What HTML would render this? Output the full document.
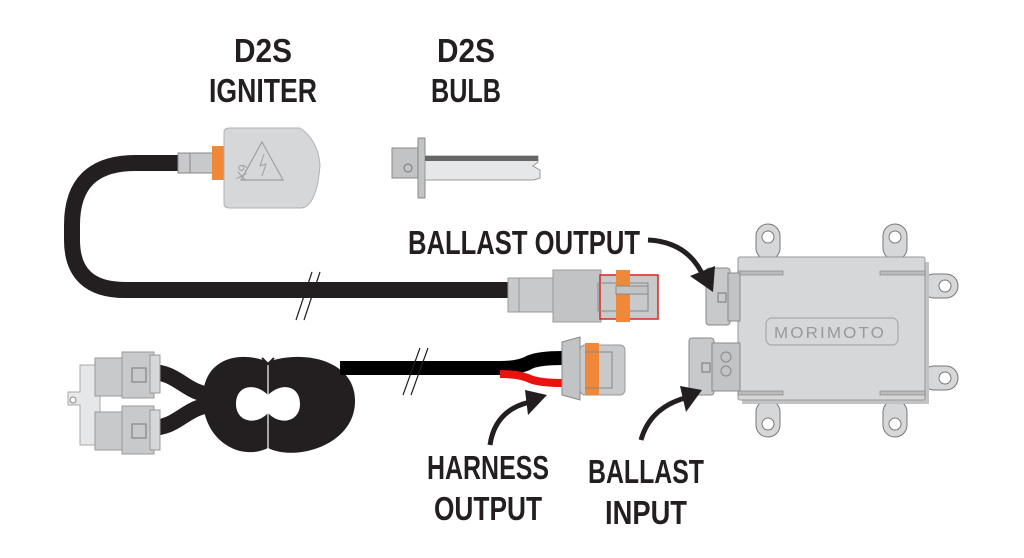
<!DOCTYPE html>
<html><head><meta charset="utf-8"><style>
html,body{margin:0;padding:0;background:#fff;width:1024px;height:558px;overflow:hidden}
svg{display:block}
text{font-family:"Liberation Sans Narrow","Liberation Sans",sans-serif;font-weight:bold;fill:#231f20;font-size:33px}
</style></head><body>
<svg width="1024" height="558" viewBox="0 0 1024 558" xmlns="http://www.w3.org/2000/svg">
<!-- labels -->
<text x="263" y="62" text-anchor="middle" textLength="58" lengthAdjust="spacingAndGlyphs">D2S</text>
<text x="263" y="102" text-anchor="middle" textLength="108" lengthAdjust="spacingAndGlyphs">IGNITER</text>
<text x="466" y="62" text-anchor="middle" textLength="58" lengthAdjust="spacingAndGlyphs">D2S</text>
<text x="466" y="102" text-anchor="middle" textLength="70" lengthAdjust="spacingAndGlyphs">BULB</text>
<text x="408" y="254" textLength="232" lengthAdjust="spacingAndGlyphs">BALLAST OUTPUT</text>
<text x="488" y="479" text-anchor="middle" textLength="122" lengthAdjust="spacingAndGlyphs">HARNESS</text>
<text x="488" y="520" text-anchor="middle" textLength="108" lengthAdjust="spacingAndGlyphs">OUTPUT</text>
<text x="646" y="483" text-anchor="middle" textLength="116" lengthAdjust="spacingAndGlyphs">BALLAST</text>
<text x="646" y="524" text-anchor="middle" textLength="82" lengthAdjust="spacingAndGlyphs">INPUT</text>

<!-- igniter cable -->
<path d="M185,163 H135 Q72,163 72,225 V240 Q72,290 125,290 H515" fill="none" stroke="#231f20" stroke-width="16"/>
<line x1="296" y1="320" x2="312" y2="272" stroke="#231f20" stroke-width="1.2"/>
<line x1="304" y1="320" x2="320" y2="272" stroke="#231f20" stroke-width="1.2"/>
<!-- igniter -->
<rect x="178" y="153" width="36" height="20" fill="#c8c9cb" stroke="#888" stroke-width="1"/>
<line x1="190" y1="153" x2="190" y2="173" stroke="#888"/>
<rect x="212" y="146" width="12" height="34" fill="#f0883a"/>
<path d="M224,132 Q224,128 230,128 H300 Q318,140 320,165 Q318,195 308,205 Q305,208 300,208 H230 Q224,208 224,204 Z" fill="#d6d7d9" stroke="#b0b1b3"/>
<path d="M262,142 L283,180 H241 Z" fill="none" stroke="#a0a0a0" stroke-width="1.2"/>
<path d="M264,154 L260,166 L266,164 L262,176" fill="none" stroke="#a0a0a0"/>
<text x="246" y="172" style="font-size:13px;fill:#a0a0a0;font-weight:normal" transform="rotate(100 246 165)">6X</text>

<!-- bulb -->
<rect x="392" y="148" width="28" height="30" fill="#c2c3c5" stroke="#888"/>
<circle cx="408" cy="168" r="4" fill="none" stroke="#777"/>
<rect x="418" y="138" width="7" height="60" fill="#c2c3c5" stroke="#888"/>
<path d="M425,156 H538 V162 L533,166 L540,170 V178 L534,180 H425 Z" fill="#e6e7e8" stroke="#999"/>
<rect x="425" y="156" width="113" height="5" fill="#666"/>

<!-- ballast output connector (on cable) -->
<rect x="508" y="278" width="45" height="34" fill="#c8c9cb" stroke="#999"/>
<line x1="519" y1="278" x2="519" y2="312" stroke="#999"/>
<rect x="553" y="270" width="48" height="52" fill="#c2c3c5" stroke="#999"/>
<rect x="600" y="275" width="58" height="44" fill="#c8c9cb" stroke="#d22" stroke-width="1.5"/>
<rect x="598" y="283" width="50" height="28" fill="none" stroke="#888"/>
<rect x="616" y="270" width="14" height="52" fill="#f0883a"/>
<rect x="616" y="286" width="32" height="8" fill="#c2c3c5" stroke="#888"/>

<!-- harness -->
<path d="M150,372 C180,372 185,395 215,395 M150,428 C180,428 185,405 215,405" fill="none" stroke="#231f20" stroke-width="16"/>
<path d="M268,362 C240,350 205,358 203,395 C201,440 240,462 268,448 C296,462 356,445 355,400 C354,358 300,350 268,362 Z" fill="#231f20"/>
<path d="M268,395 C255,382 236,385 236,404 C236,422 256,426 268,413 C280,426 300,422 300,404 C300,385 281,382 268,395 Z" fill="#fff"/>
<line x1="268" y1="360" x2="268" y2="450" stroke="#fff" stroke-width="1.2"/>
<path d="M262,358 L268,364 L274,358" fill="none" stroke="#231f20" stroke-width="2"/>
<path d="M340,368 H500 Q520,368 530,362 Q540,358 562,358" fill="none" stroke="#000" stroke-width="14"/>
<path d="M500,374 Q520,374 530,379 Q540,383 562,383" fill="none" stroke="#e8120e" stroke-width="8"/>
<line x1="403" y1="395" x2="420" y2="348" stroke="#231f20" stroke-width="1.2"/>
<line x1="411" y1="395" x2="428" y2="348" stroke="#231f20" stroke-width="1.2"/>
<!-- harness output connector -->
<path d="M562,342 L580,337 V400 L562,395 Z" fill="#c2c3c5" stroke="#888"/>
<rect x="580" y="345" width="45" height="50" rx="5" fill="#c8c9cb" stroke="#999"/>
<rect x="585" y="343" width="14" height="52" fill="#f0883a"/>
<path d="M585,352 H612 V388 H585" fill="none" stroke="#888"/>
<!-- left connectors -->
<path d="M80,365 H100 V445 H80 V405 H68 V392 H80 Z" fill="#e6e7e8" stroke="#aaa"/>
<circle cx="73" cy="400" r="3" fill="#fff" stroke="#888"/>
<rect x="95" y="358" width="30" height="38" fill="#c8c9cb" stroke="#999"/>
<rect x="122" y="352" width="32" height="46" fill="#c8c9cb" stroke="#999"/>
<rect x="150" y="355" width="10" height="38" fill="#d6d7d9" stroke="#999"/>
<rect x="132" y="368" width="14" height="14" fill="none" stroke="#777"/>
<rect x="95" y="412" width="30" height="38" fill="#c8c9cb" stroke="#999"/>
<rect x="122" y="406" width="32" height="48" fill="#c8c9cb" stroke="#999"/>
<rect x="150" y="410" width="10" height="40" fill="#d6d7d9" stroke="#999"/>
<rect x="132" y="424" width="14" height="14" fill="none" stroke="#777"/>

<!-- ballast -->
<g fill="#d6d7d9" stroke="#777" stroke-width="1">
<rect x="756" y="224" width="24" height="36" rx="12"/>
<rect x="883" y="224" width="24" height="36" rx="12"/>
<rect x="756" y="400" width="24" height="37" rx="12"/>
<rect x="883" y="400" width="24" height="37" rx="12"/>
<rect x="922" y="274" width="36" height="24" rx="12"/>
<rect x="922" y="366" width="36" height="24" rx="12"/>
</g>
<g fill="#fff" stroke="#777"><circle cx="768" cy="237" r="6"/><circle cx="895" cy="237" r="6"/><circle cx="768" cy="424" r="6"/><circle cx="895" cy="424" r="6"/><circle cx="945" cy="286" r="6"/><circle cx="945" cy="378" r="6"/></g>
<rect x="742" y="262" width="187" height="142" fill="#c2c3c5"/>
<rect x="738" y="257" width="187" height="143" rx="2" fill="#d6d7d9" stroke="#999"/>
<g fill="#bbb" stroke="#888" stroke-width=".7"><rect x="738" y="271" width="45" height="4"/><rect x="880" y="271" width="45" height="4"/><rect x="738" y="391" width="45" height="4"/><rect x="880" y="391" width="45" height="4"/></g>
<rect x="766" y="318" width="132" height="27" rx="6" fill="none" stroke="#a8a8a8" stroke-width="1.2"/>
<text x="774" y="338" style="font-size:16px;font-weight:normal;fill:#999;letter-spacing:2px" textLength="112" lengthAdjust="spacingAndGlyphs">MORIMOTO</text>
<rect x="706" y="268" width="24" height="57" rx="3" fill="#c8c9cb" stroke="#888"/>
<rect x="728" y="273" width="12" height="48" fill="#c2c3c5" stroke="#888"/>
<rect x="718" y="293" width="8" height="9" fill="none" stroke="#777"/>
<rect x="689" y="338" width="25" height="57" rx="3" fill="#c8c9cb" stroke="#888"/>
<rect x="712" y="343" width="28" height="48" fill="#c2c3c5" stroke="#888"/>
<rect x="702" y="363" width="8" height="9" fill="none" stroke="#777"/>
<circle cx="726" cy="357" r="5" fill="none" stroke="#888"/><circle cx="726" cy="371" r="5" fill="none" stroke="#888"/>

<!-- arrows -->
<g fill="#231f20">
<path d="M648,240 Q690,242 705,280" fill="none" stroke="#231f20" stroke-width="5"/>
<path d="M690,276 L713,292 L715,266 Z"/>
<path d="M490,445 Q495,410 530,402" fill="none" stroke="#231f20" stroke-width="5"/>
<path d="M525,390 L547,395 L528,415 Z"/>
<path d="M641,440 Q650,408 685,398" fill="none" stroke="#231f20" stroke-width="5"/>
<path d="M680,386 L702,390 L686,412 Z"/>
</g>
</svg>
</body></html>
